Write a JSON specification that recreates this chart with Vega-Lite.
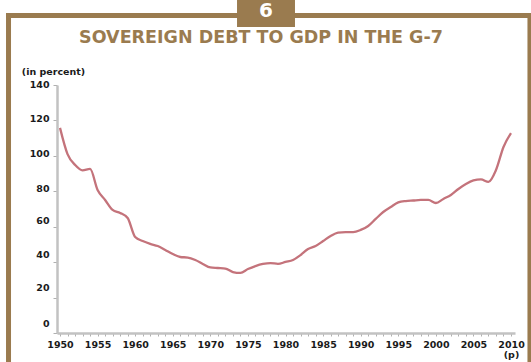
{
  "$schema": "https://vega.github.io/schema/vega-lite/v6.json",
  "autosize": {"type": "none"},
  "padding": {"left": 57, "top": 85, "right": 16, "bottom": 29},
  "width": 458,
  "height": 248,
  "background": "white",
  "config": {"view": {"stroke": null}, "font": "DejaVu Sans", "axis": {"labelOverlap": false, "labelFlush": false, "grid": false}},
  "resolve": {"axis": {"x": "independent", "y": "independent"}},
  "layer": [
    {
      "data": {"values": [
        {"year": 1950, "debt": 115.8}, {"year": 1951, "debt": 101}, {"year": 1952, "debt": 94.9},
        {"year": 1953, "debt": 91.8}, {"year": 1954, "debt": 92.6}, {"year": 1955, "debt": 80.7},
        {"year": 1956, "debt": 75.1}, {"year": 1957, "debt": 69.5}, {"year": 1958, "debt": 67.8},
        {"year": 1959, "debt": 64.9}, {"year": 1960, "debt": 54.2}, {"year": 1961, "debt": 51.9},
        {"year": 1962, "debt": 50.3}, {"year": 1963, "debt": 49.1}, {"year": 1964, "debt": 46.9},
        {"year": 1965, "debt": 44.6}, {"year": 1966, "debt": 42.9}, {"year": 1967, "debt": 42.6},
        {"year": 1968, "debt": 41.2}, {"year": 1969, "debt": 39}, {"year": 1970, "debt": 37},
        {"year": 1971, "debt": 36.7}, {"year": 1972, "debt": 36.4}, {"year": 1973, "debt": 34.4},
        {"year": 1974, "debt": 33.9}, {"year": 1975, "debt": 36.1}, {"year": 1976, "debt": 37.8},
        {"year": 1977, "debt": 39}, {"year": 1978, "debt": 39.5}, {"year": 1979, "debt": 39},
        {"year": 1980, "debt": 40.1}, {"year": 1981, "debt": 41.2}, {"year": 1982, "debt": 44},
        {"year": 1983, "debt": 47.4}, {"year": 1984, "debt": 49.1}, {"year": 1985, "debt": 51.9},
        {"year": 1986, "debt": 54.8}, {"year": 1987, "debt": 56.7}, {"year": 1988, "debt": 57},
        {"year": 1989, "debt": 57}, {"year": 1990, "debt": 58.2}, {"year": 1991, "debt": 60.4},
        {"year": 1992, "debt": 64.4}, {"year": 1993, "debt": 68.3}, {"year": 1994, "debt": 71.1},
        {"year": 1995, "debt": 73.7}, {"year": 1996, "debt": 74.5}, {"year": 1997, "debt": 74.8},
        {"year": 1998, "debt": 75.1}, {"year": 1999, "debt": 75.1}, {"year": 2000, "debt": 73.4},
        {"year": 2001, "debt": 75.7}, {"year": 2002, "debt": 77.9}, {"year": 2003, "debt": 81.3},
        {"year": 2004, "debt": 84.1}, {"year": 2005, "debt": 86.1}, {"year": 2006, "debt": 86.7},
        {"year": 2007, "debt": 85.3}, {"year": 2008, "debt": 92}, {"year": 2009, "debt": 105},
        {"year": 2010, "debt": 112.9}
      ]},
      "mark": {"type": "line", "color": "#c4737b", "strokeWidth": 2.3, "interpolate": "monotone"},
      "encoding": {
        "x": {
          "field": "year", "type": "quantitative",
          "scale": {"domain": [1949.6, 2010.53], "nice": false, "zero": false},
          "axis": {
            "title": null,
            "values": [1950,1951,1952,1953,1954,1955,1956,1957,1958,1959,1960,1961,1962,1963,1964,1965,1966,1967,1968,1969,1970,1971,1972,1973,1974,1975,1976,1977,1978,1979,1980,1981,1982,1983,1984,1985,1986,1987,1988,1989,1990,1991,1992,1993,1994,1995,1996,1997,1998,1999,2000,2001,2002,2003,2004,2005,2006,2007,2008,2009,2010],
            "labelExpr": "datum.value == 2010 ? ['2010', '(p)'] : (datum.value % 5 == 0 ? datum.label : '')",
            "format": "d",
            "labelOverlap": false,
            "labelFlush": false,
            "grid": false,
            "domainColor": "#c2c2c2", "domainWidth": 2.5,
            "tickColor": "#b0b0b0", "tickSize": 3, "tickWidth": 1,
            "labelPadding": 3,
            "labelFont": "DejaVu Sans", "labelFontWeight": "bold", "labelFontSize": 9.5,
            "labelColor": "#1a1a1a", "labelLineHeight": 10.5
          }
        },
        "y": {
          "field": "debt", "type": "quantitative",
          "scale": {"domain": [0, 140], "nice": false},
          "axis": {
            "title": "(in percent)",
            "titleAngle": 0, "titleAlign": "center", "titleBaseline": "middle",
            "titleX": -4, "titleY": -14,
            "titleFont": "DejaVu Sans", "titleFontWeight": "bold", "titleFontSize": 9.5, "titleColor": "#1a1a1a",
            "values": [0, 20, 40, 60, 80, 100, 120, 140],
            "labelOverlap": false,
            "grid": false,
            "domainColor": "#c2c2c2", "domainWidth": 2.5,
            "tickColor": "#b0b0b0", "tickSize": 4, "tickWidth": 1,
            "labelPadding": 4,
            "labelOffset": {"condition": [
              {"test": "datum.value <= 20", "value": -10},
              {"test": "datum.value <= 40", "value": -8},
              {"test": "datum.value <= 60", "value": -6},
              {"test": "datum.value <= 80", "value": -3},
              {"test": "datum.value <= 120", "value": -2}
            ], "value": -1},
            "labelFont": "DejaVu Sans", "labelFontWeight": "bold", "labelFontSize": 9.5,
            "labelColor": "#1a1a1a"
          }
        }
      }
    },
    {
      "data": {"values": [{"part": "left"}]},
      "mark": {"type": "rule", "color": "#9a7b4f", "strokeWidth": 5, "strokeCap": "square"},
      "encoding": {
        "x": {"datum": 1943.15, "type": "quantitative", "axis": null},
        "y": {"datum": 179.3, "type": "quantitative", "axis": null},
        "y2": {"datum": -25}
      }
    },
    {
      "data": {"values": [{"part": "right"}]},
      "mark": {"type": "rule", "color": "#9a7b4f", "strokeWidth": 5, "strokeCap": "square"},
      "encoding": {
        "x": {"datum": 2012.52, "type": "quantitative", "axis": null},
        "y": {"datum": 179.3, "type": "quantitative", "axis": null},
        "y2": {"datum": -25}
      }
    },
    {
      "data": {"values": [{"part": "top"}]},
      "mark": {"type": "rule", "color": "#9a7b4f", "strokeWidth": 5, "strokeCap": "square"},
      "encoding": {
        "x": {"datum": 1943.15, "type": "quantitative", "axis": null},
        "x2": {"datum": 2012.52},
        "y": {"datum": 179.3, "type": "quantitative", "axis": null}
      }
    },
    {
      "data": {"values": [{"part": "box"}]},
      "mark": {"type": "rect", "color": "#9a7b4f"},
      "encoding": {
        "x": {"datum": 1973.55, "type": "quantitative", "axis": null},
        "x2": {"datum": 1981.26},
        "y": {"datum": 172.8, "type": "quantitative", "axis": null},
        "y2": {"datum": 192}
      }
    },
    {
      "data": {"values": [{"label": "6"}]},
      "mark": {"type": "text", "color": "white", "font": "DejaVu Sans", "fontWeight": "bold", "fontSize": 20, "align": "center", "baseline": "middle"},
      "encoding": {
        "text": {"field": "label"},
        "x": {"datum": 1977.4, "type": "quantitative", "axis": null},
        "y": {"datum": 181.6, "type": "quantitative", "axis": null}
      }
    },
    {
      "data": {"values": [{"label": "SOVEREIGN DEBT TO GDP IN THE G-7"}]},
      "mark": {"type": "text", "color": "#9a7b4f", "font": "DejaVu Sans", "fontWeight": "bold", "fontSize": 17.5, "align": "center", "baseline": "alphabetic"},
      "encoding": {
        "text": {"field": "label"},
        "x": {"datum": 1976.74, "type": "quantitative", "axis": null},
        "y": {"datum": 163.7, "type": "quantitative", "axis": null}
      }
    }
  ]
}
